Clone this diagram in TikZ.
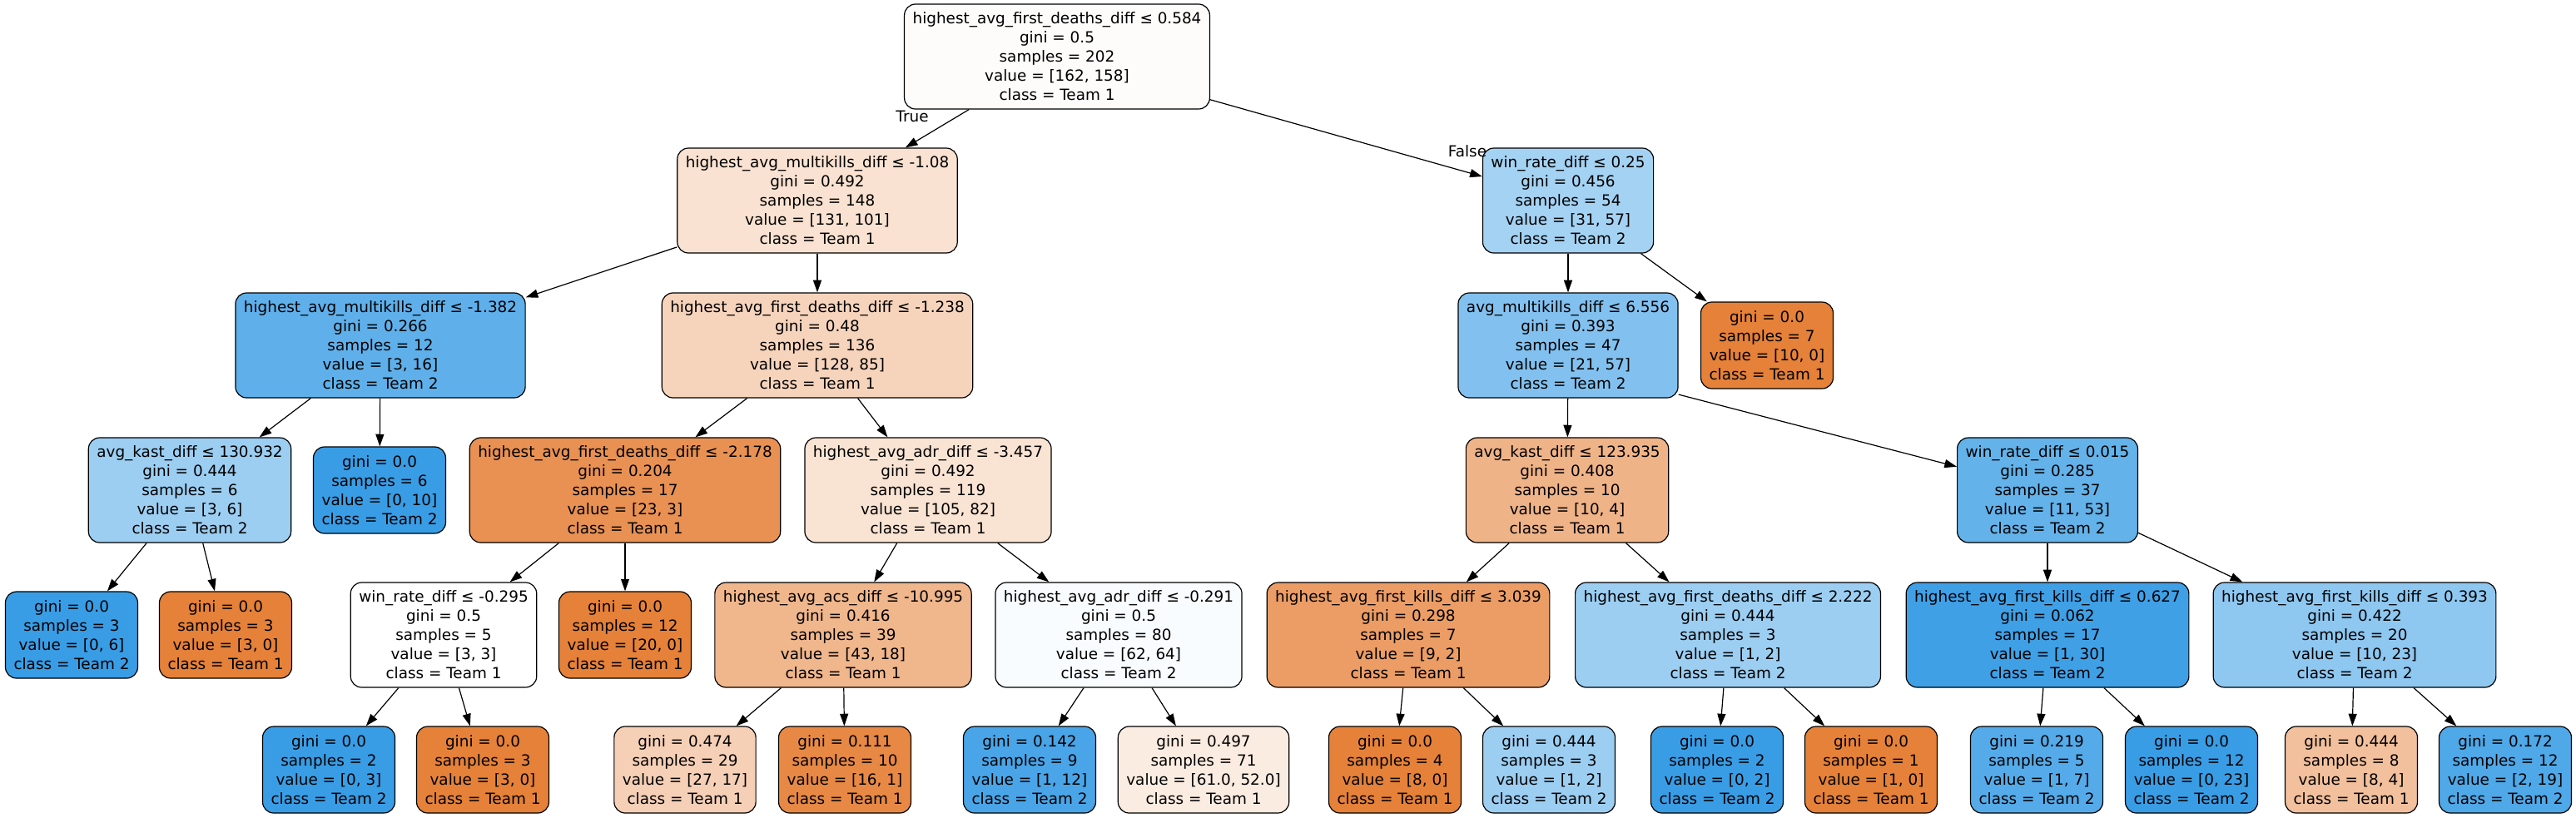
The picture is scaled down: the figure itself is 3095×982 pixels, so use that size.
\documentclass[tikz,border=0pt]{standalone}
\usepackage{fontspec}
\setmainfont{DejaVu Sans}
\usetikzlibrary{arrows.meta}
\definecolor{teamone}{HTML}{E58139}
\definecolor{teamtwo}{HTML}{399DE5}
\tikzset{
	treenode/.style={draw=black, line width=0.9bp, rounded corners=10bp, align=center, inner xsep=7.5bp, inner ysep=0pt, font=\fontsize{13.8bp}{17.25bp}\selectfont},
	splitnode/.style={treenode, minimum height=94.5bp},
	leafnode/.style={treenode, minimum height=78bp},
	link/.style={-{Triangle[length=11bp,width=7.5bp]}, line width=0.9bp},
	branch/.style={inner sep=0pt, font=\fontsize{13.8bp}{17.25bp}\selectfont}
}
\begin{document}
\begin{tikzpicture}[x=0.75bp, y=-0.75bp]
	\useasboundingbox (0,0) rectangle (3095,982);
	
	\node [splitnode, fill=teamone!2] (root) at (1270,68) {highest\_avg\_first\_deaths\_diff ≤ 0.584\\gini = 0.5\\samples = 202\\value = [162, 158]\\class = Team 1};
	
	\node [splitnode, fill=teamone!23] (mk1) at (982,241) {highest\_avg\_multikills\_diff ≤ -1.08\\gini = 0.492\\samples = 148\\value = [131, 101]\\class = Team 1};
	\node [splitnode, fill=teamtwo!46] (wr1) at (1884,241) {win\_rate\_diff ≤ 0.25\\gini = 0.456\\samples = 54\\value = [31, 57]\\class = Team 2};
	
	\node [splitnode, fill=teamtwo!81] (mk2) at (457,415) {highest\_avg\_multikills\_diff ≤ -1.382\\gini = 0.266\\samples = 12\\value = [3, 16]\\class = Team 2};
	\node [splitnode, fill=teamone!34] (fd1) at (982,415) {highest\_avg\_first\_deaths\_diff ≤ -1.238\\gini = 0.48\\samples = 136\\value = [128, 85]\\class = Team 1};
	\node [splitnode, fill=teamtwo!63] (amk) at (1884,415) {avg\_multikills\_diff ≤ 6.556\\gini = 0.393\\samples = 47\\value = [21, 57]\\class = Team 2};
	\node [leafnode, fill=teamone] (lfa) at (2123,415) {gini = 0.0\\samples = 7\\value = [10, 0]\\class = Team 1};
	
	\node [splitnode, fill=teamtwo!50] (kast1) at (228,589) {avg\_kast\_diff ≤ 130.932\\gini = 0.444\\samples = 6\\value = [3, 6]\\class = Team 2};
	\node [leafnode, fill=teamtwo] (lfb) at (456,589) {gini = 0.0\\samples = 6\\value = [0, 10]\\class = Team 2};
	\node [splitnode, fill=teamone!87] (fd2) at (751,589) {highest\_avg\_first\_deaths\_diff ≤ -2.178\\gini = 0.204\\samples = 17\\value = [23, 3]\\class = Team 1};
	\node [splitnode, fill=teamone!22] (adr1) at (1115,589) {highest\_avg\_adr\_diff ≤ -3.457\\gini = 0.492\\samples = 119\\value = [105, 82]\\class = Team 1};
	\node [splitnode, fill=teamone!60] (kast2) at (1883,589) {avg\_kast\_diff ≤ 123.935\\gini = 0.408\\samples = 10\\value = [10, 4]\\class = Team 1};
	\node [splitnode, fill=teamtwo!79] (wr2) at (2460,589) {win\_rate\_diff ≤ 0.015\\gini = 0.285\\samples = 37\\value = [11, 53]\\class = Team 2};
	
	\node [leafnode, fill=teamtwo] (lfc) at (86,763) {gini = 0.0\\samples = 3\\value = [0, 6]\\class = Team 2};
	\node [leafnode, fill=teamone] (lfd) at (271,763) {gini = 0.0\\samples = 3\\value = [3, 0]\\class = Team 1};
	\node [splitnode, fill=white] (wr3) at (533,763) {win\_rate\_diff ≤ -0.295\\gini = 0.5\\samples = 5\\value = [3, 3]\\class = Team 1};
	\node [leafnode, fill=teamone] (lfe) at (751,763) {gini = 0.0\\samples = 12\\value = [20, 0]\\class = Team 1};
	\node [splitnode, fill=teamone!58] (acs) at (1013,763) {highest\_avg\_acs\_diff ≤ -10.995\\gini = 0.416\\samples = 39\\value = [43, 18]\\class = Team 1};
	\node [splitnode, fill=teamtwo!3] (adr2) at (1344,763) {highest\_avg\_adr\_diff ≤ -0.291\\gini = 0.5\\samples = 80\\value = [62, 64]\\class = Team 2};
	\node [splitnode, fill=teamone!78] (fk1) at (1692,763) {highest\_avg\_first\_kills\_diff ≤ 3.039\\gini = 0.298\\samples = 7\\value = [9, 2]\\class = Team 1};
	\node [splitnode, fill=teamtwo!50] (fd3) at (2076,763) {highest\_avg\_first\_deaths\_diff ≤ 2.222\\gini = 0.444\\samples = 3\\value = [1, 2]\\class = Team 2};
	\node [splitnode, fill=teamtwo!97] (fk2) at (2460,763) {highest\_avg\_first\_kills\_diff ≤ 0.627\\gini = 0.062\\samples = 17\\value = [1, 30]\\class = Team 2};
	\node [splitnode, fill=teamtwo!57] (fk3) at (2829,763) {highest\_avg\_first\_kills\_diff ≤ 0.393\\gini = 0.422\\samples = 20\\value = [10, 23]\\class = Team 2};
	
	\node [leafnode, fill=teamtwo] (lff) at (395,925) {gini = 0.0\\samples = 2\\value = [0, 3]\\class = Team 2};
	\node [leafnode, fill=teamone] (lfg) at (580,925) {gini = 0.0\\samples = 3\\value = [3, 0]\\class = Team 1};
	\node [leafnode, fill=teamone!37] (lfh) at (823,925) {gini = 0.474\\samples = 29\\value = [27, 17]\\class = Team 1};
	\node [leafnode, fill=teamone!94] (lfi) at (1015,925) {gini = 0.111\\samples = 10\\value = [16, 1]\\class = Team 1};
	\node [leafnode, fill=teamtwo!92] (lfj) at (1237,925) {gini = 0.142\\samples = 9\\value = [1, 12]\\class = Team 2};
	\node [leafnode, fill=teamone!15] (lfk) at (1446,925) {gini = 0.497\\samples = 71\\value = [61.0, 52.0]\\class = Team 1};
	\node [leafnode, fill=teamone] (lfl) at (1676,925) {gini = 0.0\\samples = 4\\value = [8, 0]\\class = Team 1};
	\node [leafnode, fill=teamtwo!50] (lfm) at (1861,925) {gini = 0.444\\samples = 3\\value = [1, 2]\\class = Team 2};
	\node [leafnode, fill=teamtwo] (lfn) at (2063,925) {gini = 0.0\\samples = 2\\value = [0, 2]\\class = Team 2};
	\node [leafnode, fill=teamone] (lfo) at (2248,925) {gini = 0.0\\samples = 1\\value = [1, 0]\\class = Team 1};
	\node [leafnode, fill=teamtwo!86] (lfp) at (2447,925) {gini = 0.219\\samples = 5\\value = [1, 7]\\class = Team 2};
	\node [leafnode, fill=teamtwo] (lfq) at (2633,925) {gini = 0.0\\samples = 12\\value = [0, 23]\\class = Team 2};
	\node [leafnode, fill=teamone!50] (lfr) at (2825,925) {gini = 0.444\\samples = 8\\value = [8, 4]\\class = Team 1};
	\node [leafnode, fill=teamtwo!89] (lfs) at (3010,925) {gini = 0.172\\samples = 12\\value = [2, 19]\\class = Team 2};
	
	\foreach \a/\b in {root/mk1,root/wr1,mk1/mk2,mk1/fd1,wr1/amk,wr1/lfa,mk2/kast1,mk2/lfb,fd1/fd2,fd1/adr1,amk/kast2,kast1/lfc,kast1/lfd,fd2/wr3,fd2/lfe,adr1/acs,adr1/adr2,kast2/fk1,kast2/fd3,wr2/fk2,wr2/fk3,wr3/lff,wr3/lfg,acs/lfh,acs/lfi,adr2/lfj,adr2/lfk,fk1/lfl,fk1/lfm,fd3/lfn,fd3/lfo,fk2/lfp,fk2/lfq,fk3/lfr,fk3/lfs}
		\draw [link] (\a) -- (\b);
	\draw [link] (amk.-24) -- (wr2);
	
	\node [branch] (truelbl) at (1096,140) {True};
	\node [branch] (falselbl) at (1763,182) {False};
\end{tikzpicture}
\end{document}
